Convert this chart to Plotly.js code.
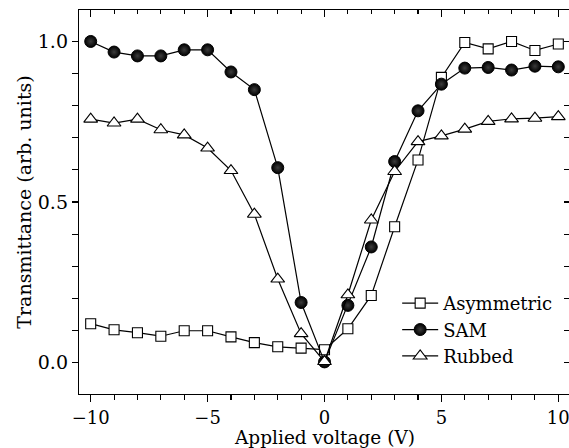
<!DOCTYPE html>
<html>
<head>
<meta charset="utf-8">
<script src="https://cdn.plot.ly/plotly-3.0.1.min.js"></script>
<style>html,body{margin:0;padding:0;overflow:hidden;background:#fff;}#chart{width:570px;height:448px;}</style>
</head>
<body>
<div id="chart"></div>
<script>
const voltage = [-10,-9,-8,-7,-6,-5,-4,-3,-2,-1,0,1,2,3,4,5,6,7,8,9,10];
const asymmetric = [0.121,0.102,0.093,0.082,0.099,0.099,0.080,0.062,0.049,0.045,0.040,0.105,0.209,0.423,0.631,0.888,0.997,0.977,1.000,0.972,0.992];
const sam = [1.000,0.967,0.955,0.955,0.974,0.974,0.905,0.850,0.607,0.187,0.002,0.178,0.360,0.626,0.784,0.867,0.917,0.919,0.911,0.923,0.921];
const rubbed = [0.758,0.746,0.758,0.725,0.709,0.668,0.598,0.462,0.260,0.090,0.003,0.211,0.444,0.595,0.688,0.706,0.727,0.751,0.759,0.761,0.766];
const seriesNames = ['Asymmetric','SAM','Rubbed'];
const xTitle = 'Applied voltage (V)';
const yTitle = 'Transmittance (arb. units)';

const FONT = 'DejaVu Serif, serif';
const lineStyle = {color:'#000', width:1.2};

const traces = [
  {x: voltage, y: asymmetric, name: seriesNames[0], mode:'lines+markers', line: lineStyle,
   marker:{symbol:'square', size:10, color:'#fff', line:{color:'#000', width:1.1}}},
  {x: voltage, y: sam, name: seriesNames[1], mode:'lines+markers', line: lineStyle,
   marker:{symbol:'circle', size:12, color:'#000', gradient:{type:'radial', color:'#3c3c3c'}, line:{color:'#000', width:1}}},
  {x: voltage, y: rubbed, name: seriesNames[2], mode:'lines+markers', line: lineStyle,
   marker:{symbol:'triangle-up', size:12, color:'#fff', line:{color:'#000', width:1.1}}},
  {x: voltage, y: asymmetric, xaxis:'x2', yaxis:'y2', mode:'markers', showlegend:false, hoverinfo:'skip',
   marker:{opacity:0, size:1}}
];

const layout = {
  width: 570, height: 448,
  margin: {l:79, r:0, t:10, b:54},
  paper_bgcolor:'#fff', plot_bgcolor:'#fff',
  font: {family: FONT, size: 18, color:'#000'},
  showlegend: true,
  legend: {x: 0.648, xanchor:'left', y: 0.284, yanchor:'top', bgcolor:'rgba(0,0,0,0)',
           itemwidth: 36,
           font:{family: FONT, size: 18, color:'#000'}, tracegroupgap: 0},
  xaxis: {range:[-10.5,10.5], autorange:false, showgrid:false, zeroline:false,
          showline:true, linecolor:'#000', linewidth:1.2,
          ticks:'outside', ticklen:7, tickwidth:1.1, tickcolor:'#000', dtick:5, tick0:0,
          ticklabeloverflow:'allow',
          minor:{dtick:1, ticks:'outside', ticklen:5, tickwidth:1.1, tickcolor:'#000', showgrid:false},
          tickfont:{family: FONT, size:18}},
  yaxis: {range:[-0.098,1.098], autorange:false, showgrid:false, zeroline:false,
          showline:true, linecolor:'#000', linewidth:1.2,
          ticks:'outside', ticklen:6, tickwidth:1.1, tickcolor:'#000', dtick:0.5, tick0:0, tickformat:'.1f',
          minor:{dtick:0.1, ticks:'outside', ticklen:6, tickwidth:1.1, tickcolor:'#000', showgrid:false},
          tickfont:{family: FONT, size:19},
          title:{text: yTitle + '\u00a0\u00a0\u00a0\u00a0', font:{family: FONT, size:19}}},
  xaxis2: {overlaying:'x', side:'top', anchor:'y', range:[-10.5,10.5], autorange:false,
           showgrid:false, zeroline:false, showline:true, linecolor:'#000', linewidth:1.2,
           showticklabels:false, ticks:'inside', ticklen:7, tickwidth:1.1, tickcolor:'#000', dtick:5, tick0:0,
           minor:{dtick:1, ticks:'inside', ticklen:4, tickwidth:1.1, tickcolor:'#000', showgrid:false}},
  yaxis2: {overlaying:'y', side:'right', anchor:'x', range:[-0.098,1.098], autorange:false,
           showgrid:false, zeroline:false, showline:false,
           showticklabels:false, ticks:'inside', ticklen:6, tickwidth:1.1, tickcolor:'#000', dtick:0.1, tick0:0},
  annotations: [
    {text: xTitle, xref:'paper', yref:'paper', x:0.5, y:0, xanchor:'center', yanchor:'top',
     yshift:-31, showarrow:false, font:{family: FONT, size:18.5, color:'#000'}}
  ]
};

Plotly.newPlot('chart', traces, layout, {displayModeBar:false, staticPlot:true});
</script>
</body>
</html>
